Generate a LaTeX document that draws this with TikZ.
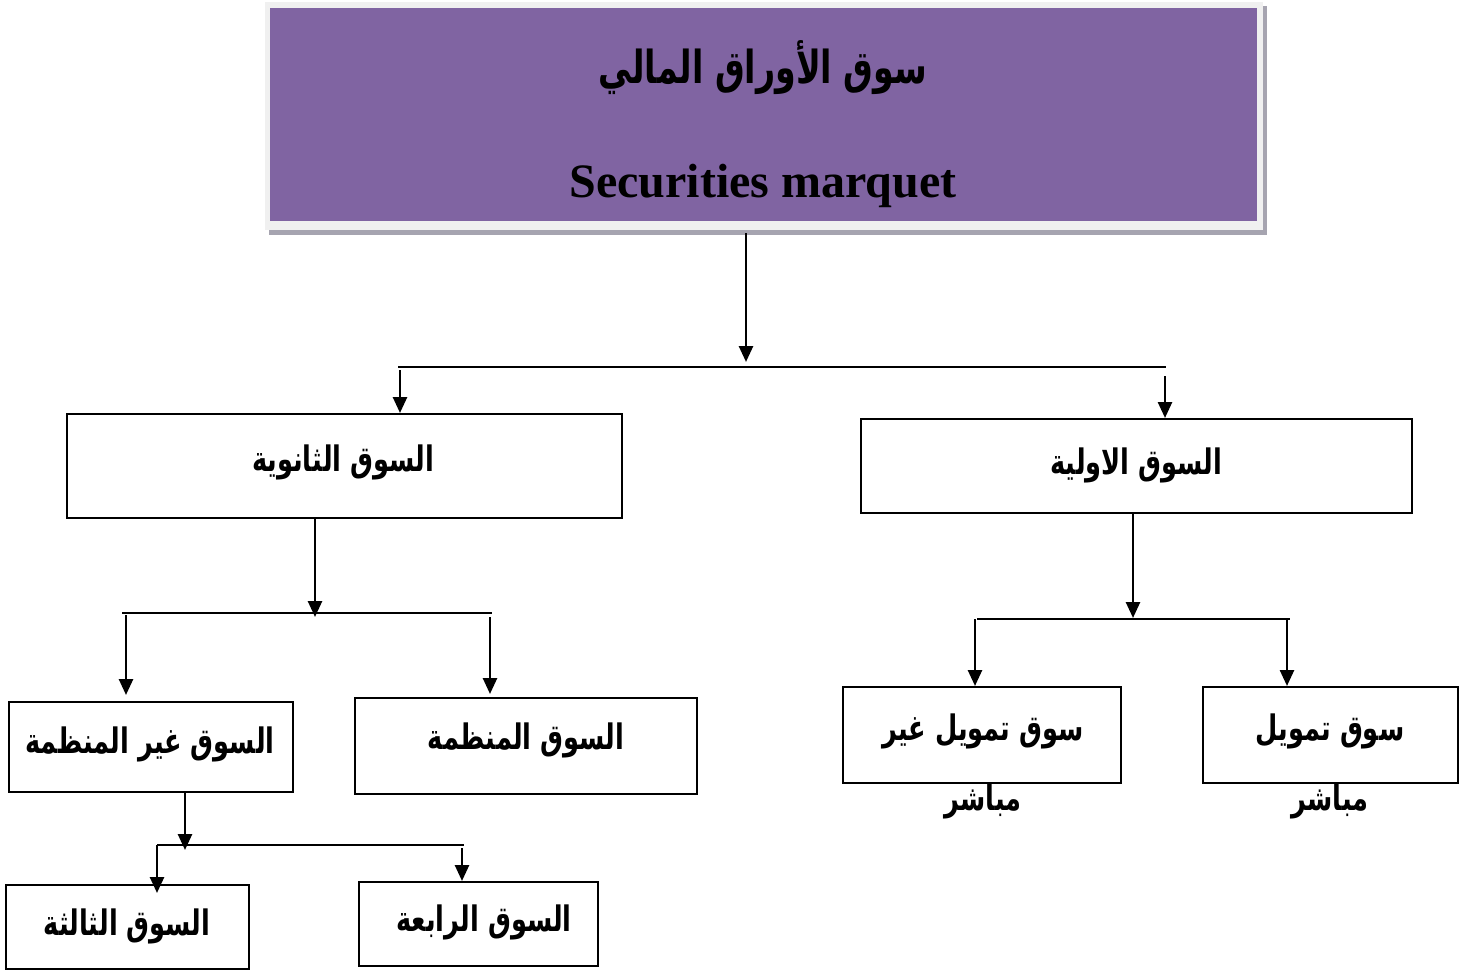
\documentclass[tikz,border=0pt]{standalone}
\usepackage{fontspec}
\setmainfont{Liberation Serif}
\newfontfamily\arabicfont[Script=Arabic]{DejaVu Sans}
\TeXXeTstate=1
\usetikzlibrary{arrows.meta}
\definecolor{purp}{HTML}{8064A2}
\definecolor{frame}{HTML}{F0F0F0}
\definecolor{shad}{HTML}{A6A4B0}
\newcommand{\ar}[1]{\scalebox{0.95}[1.3]{\beginR #1\endR}}
\tikzset{
  box/.style={draw=black, line width=2pt, inner sep=0pt},
  lbl/.style={font=\arabicfont\bfseries\fontsize{27}{32}\selectfont},
  conn/.style={line width=2.6pt},
  arr/.style={line width=2.6pt, -{Triangle[length=16pt,width=14pt]}},
}
\begin{document}
\begin{tikzpicture}[x=1pt,y=-1pt]
\useasboundingbox (0,0) rectangle (1481,972);
% top box with frame and shadow
\fill[shad] (269,6) rectangle (1267,235);
\fill[frame] (265,2) rectangle (1263,230);
\node[fill=purp, minimum width=987pt, minimum height=213pt, inner sep=0pt, anchor=north west] (top) at (270,8) {};
\node[font=\arabicfont\bfseries\fontsize{35}{42}\selectfont] (title) at (763,68) {\ar{سوق الأوراق المالي}};
\node[font=\bfseries\fontsize{48}{54}\selectfont] (eng) at (763,186) {Securities marquet};
\coordinate (topb) at (746,233);
% level 1
\coordinate (h1l) at (398,367);
\coordinate (h1r) at (1166,367);
\coordinate (h1m) at (746,362);
\node[box, minimum width=555pt, minimum height=104pt, anchor=north west] (sec) at (66,413) {};
\node[lbl] (sect) at (343,462) {\ar{السوق الثانوية}};
\node[box, minimum width=551pt, minimum height=94pt, anchor=north west] (pri) at (860,418) {};
\node[lbl] (prit) at (1136,465) {\ar{السوق الاولية}};
\draw[arr] (topb) -- (h1m);
\draw[conn] (h1l) -- (h1r);
\coordinate (a1) at (400,370);
\coordinate (a2) at (1165,376);
\draw[arr] (a1) -- (a1 |- sec.north);
\draw[arr] (a2) -- (a2 |- pri.north);
% secondary branch
\node[box, minimum width=284pt, minimum height=90pt, anchor=north west] (otc) at (8,701) {};
\node[lbl] (otct) at (150,744) {\ar{السوق غير المنظمة}};
\node[box, minimum width=342pt, minimum height=96pt, anchor=north west] (org) at (354,697) {};
\node[lbl] (orgt) at (526,740) {\ar{السوق المنظمة}};
\coordinate (s0) at (315,517);
\coordinate (s1) at (315,617);
\coordinate (h2l) at (122,613);
\coordinate (h2r) at (492,613);
\draw[arr] (s0) -- (s1);
\draw[conn] (h2l) -- (h2r);
\coordinate (b1) at (126,615);
\coordinate (b2) at (490,617);
\draw[arr] (b1) -- (126,695);
\draw[arr] (b2) -- (490,694);
% OTC branch
\node[box, minimum width=243pt, minimum height=84pt, anchor=north west] (third) at (5,884) {};
\node[lbl] (thirdt) at (127,926) {\ar{السوق الثالثة}};
\node[box, minimum width=239pt, minimum height=84pt, anchor=north west] (fourth) at (358,881) {};
\node[lbl] (fourtht) at (484,922) {\ar{السوق الرابعة}};
\coordinate (o0) at (185,791);
\coordinate (o1) at (185,850);
\coordinate (h3l) at (157,845);
\coordinate (h3r) at (464,845);
\draw[arr] (o0) -- (o1);
\draw[conn] (h3l) -- (h3r);
\coordinate (c1) at (157,845);
\coordinate (c2) at (462,848);
\draw[arr] (c1) -- (157,893);
\draw[arr] (c2) -- (462,881);
% primary branch
\node[box, minimum width=278pt, minimum height=96pt, anchor=north west] (ind) at (842,686) {};
\node[lbl] (indt) at (983,731) {\ar{سوق تمويل غير}};
\node[box, minimum width=255pt, minimum height=96pt, anchor=north west] (dir) at (1202,686) {};
\node[lbl] (dirt) at (1330,731) {\ar{سوق تمويل}};
\node[lbl] (indt2) at (983,801) {\ar{مباشر}};
\node[lbl] (dirt2) at (1330,801) {\ar{مباشر}};
\coordinate (p0) at (1133,512);
\coordinate (p1) at (1133,618);
\coordinate (h4l) at (977,619);
\coordinate (h4r) at (1290,619);
\draw[arr] (p0) -- (p1);
\draw[conn] (h4l) -- (h4r);
\coordinate (d1) at (975,619);
\coordinate (d2) at (1287,620);
\draw[arr] (d1) -- (975 ,686);
\draw[arr] (d2) -- (1287,686);
\end{tikzpicture}
\end{document}
